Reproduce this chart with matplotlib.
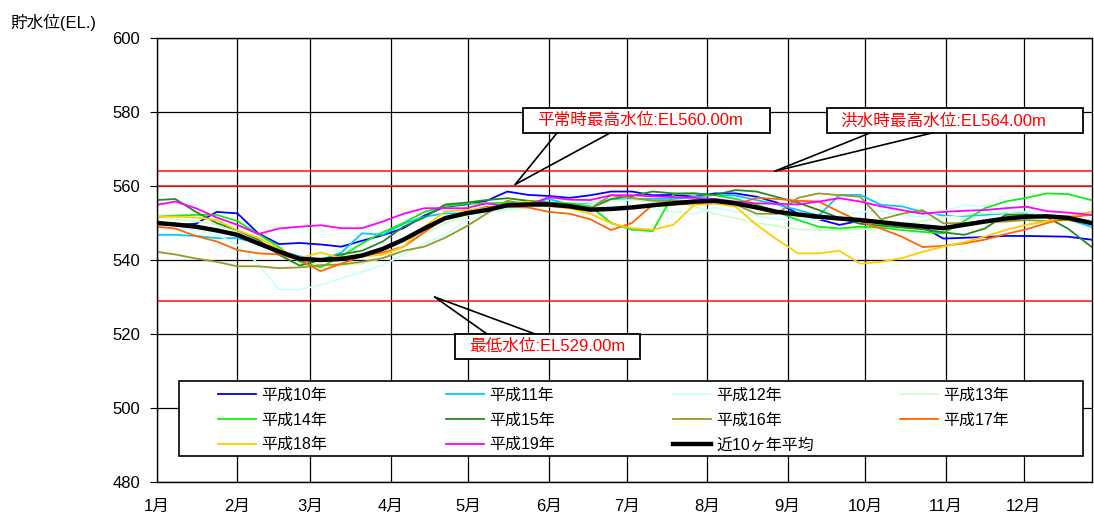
import matplotlib
matplotlib.use("Agg")
import matplotlib.pyplot as plt
from matplotlib.patches import Rectangle
from matplotlib.legend import Legend

plt.rcParams['font.family'] = ['Liberation Sans', 'Noto Sans CJK JP']

# day of year for each reading
days = [1, 8, 16, 24, 32, 40, 48, 56, 64, 72, 80, 88, 96, 104, 112, 120, 128, 136, 144, 152,
        160, 168, 176, 184, 192, 200, 208, 216, 224, 232, 240, 248, 256, 264, 272, 280, 288, 296, 304, 312,
        320, 328, 336, 344, 352, 361]

h10 = [550, 549.5, 549.8, 553, 552.6, 547.2, 544.3, 544.6, 544.2, 543.6, 545.2, 546.7, 548.6, 552, 554.4,
       555, 556, 558.5, 557.6, 557.3, 556.8, 557.5, 558.5, 558.5, 557.5, 557.6, 557.1, 558, 558, 557.1,
       555.5, 552.5, 551, 549.5, 550.6, 550.2, 549.5, 549, 545.8, 546, 546.2, 546.5, 546.5, 546.4, 546.3, 545.5]
h11 = [546.8, 546.8, 546.5, 545.9, 545.9, 544.5, 542.5, 541, 540, 542, 547.2, 546.8, 549.8, 551.7, 552.6,
       552.6, 553, 554.5, 555.3, 556.5, 555, 555.5, 556.2, 556.5, 556.5, 556.5, 557, 557.6, 557.4, 556.2,
       555, 553.5, 552, 557.6, 557.6, 554.9, 554.5, 553, 552, 551.9, 552.2, 552.6, 553, 551.8, 551, 549]
h12 = [549, 548.5, 548, 547, 544, 539, 532, 532, 533.2, 535, 536.8, 538.6, 541.5, 544.5, 546.8,
       550.5, 552.8, 553.5, 554.2, 554.5, 554.5, 554.2, 554.5, 554.5, 554, 553, 552.5, 554.2, 553, 552,
       551, 550.8, 551, 552, 553, 553.3, 552, 551.7, 553, 554.9, 554.5, 553.5, 553, 552, 551.3, 550.4]
h13 = [551.5, 551, 550.5, 549.5, 547.5, 545, 542.5, 540.5, 538.5, 538.5, 539, 540.5, 543.5, 547, 549.9,
       552, 553.2, 553.8, 554.2, 555, 555.5, 555.6, 556, 556.2, 555.8, 555.5, 554.5, 552.5, 551.3, 550,
       549.2, 548.3, 548.1, 548, 548.3, 548.5, 549.5, 550.5, 551.5, 552.2, 552.6, 552.8, 552.5, 552, 551.2, 550.8]
h14 = [551.7, 552, 552.2, 552.2, 550.5, 547, 543.5, 539.5, 538, 541, 544.5, 547.5, 550, 553, 554.5,
       555.2, 555.3, 555.5, 555.5, 555.5, 555.3, 554.5, 550, 548.2, 547.8, 557.8, 558, 557.5, 556.5, 555,
       553, 550.8, 549, 548.5, 549, 548.8, 548.1, 547.6, 547.2, 550.5, 554, 555.8, 556.8, 558, 557.8, 556.2]
h15 = [556.2, 556.5, 553, 550, 548, 545.5, 541.4, 538.5, 540, 541.5, 542.5, 545, 549, 551.5, 555,
       555.5, 556.2, 556.7, 556, 555.5, 555, 554, 556.5, 557.3, 558.5, 558, 558, 557.6, 558.9, 558.5,
       557, 555.5, 553.5, 551.3, 549.8, 549.3, 548.8, 548.3, 547.5, 546.8, 548.5, 552.2, 552.3, 551.5, 548.5, 543.6]
h16 = [542.2, 541.5, 540.4, 539.5, 538.3, 538.3, 537.8, 538, 538.6, 538.8, 539.5, 540.5, 542.5, 543.6, 546,
       549, 552.5, 556, 555, 555, 554.5, 554, 557.5, 556.8, 556, 556, 556, 555.5, 555, 552.5,
       552.5, 556.8, 558, 557.5, 557.1, 551, 552.5, 553.5, 549.9, 550, 550.2, 550.4, 550.8, 550.5, 550.8, 550]
h17 = [549, 548.5, 546.5, 545, 542.7, 541.8, 541.5, 540, 537, 539, 541, 542, 543.6, 547.5, 551.3,
       553, 554.4, 554.4, 554.2, 553, 552.5, 551, 548.1, 550, 554.9, 555, 555.2, 555.3, 555, 556.8,
       556.5, 556, 555.8, 553, 550.4, 548.5, 546.3, 543.5, 543.8, 544.5, 545.5, 547, 548.3, 550, 551.5, 552.2]
h18 = [551.7, 551.7, 551.5, 550.8, 548, 546, 543, 540.5, 542, 540.5, 541, 541.4, 543.6, 549, 553.1,
       553.5, 554, 555, 555.8, 554.5, 554, 552.5, 549.9, 548.6, 548.2, 549.5, 554.9, 555.3, 554.4, 549.5,
       545.5, 541.8, 541.8, 542.5, 539, 539.5, 540.5, 542.2, 543.6, 544.8, 546.3, 548.1, 549.5, 550.5, 551.8, 553]
h19 = [554.9, 555.8, 554, 551.5, 549.5, 547, 548.5, 549, 549.4, 548.6, 548.6, 550.4, 552.5, 554, 554,
       554, 555.3, 554.5, 554.8, 557, 556.3, 556.2, 557.5, 557.5, 557.2, 557, 556.8, 556.5, 555.8, 555.3,
       555.2, 555, 555.8, 556.7, 555.8, 554.5, 553.5, 552.5, 553, 553.3, 553.5, 554, 554.4, 553.2, 552.8, 552.2]
avg10 = [550, 549.6, 549, 548, 546.8, 544.5, 542.3, 540.3, 540, 540.3, 541.2, 543, 545.5, 548.5, 551.3,
         552.6, 553.5, 554.8, 555, 555, 554.5, 553.6, 553.8, 554.2, 554.8, 555.3, 555.8, 556, 555.3, 554.2,
         553, 552.3, 551.7, 551.2, 550.8, 550.2, 549.6, 549.1, 548.6, 549.5, 550.4, 551.2, 551.7, 551.8, 551.4, 550]

labels = ['平成10年', '平成11年', '平成12年', '平成13年', '平成14年', '平成15年',
          '平成16年', '平成17年', '平成18年', '平成19年', '近10ヶ年平均']
colors = ['#0000FF', '#00CCFF', '#CCFFFF', '#CCFFCC', '#11EE11', '#228B22',
          '#999922', '#FF6600', '#FFCC00', '#FF00FF', '#000000']

month_start = [1, 32, 60, 91, 121, 152, 182, 213, 244, 274, 305, 335]
month_labels = ['1月', '2月', '3月', '4月', '5月', '6月', '7月', '8月', '9月', '10月', '11月', '12月']

lv_normal = 560.0
lv_flood = 564.0
lv_low = 529.0

W, H = 1094, 517


def fpos(x, y):
    # pixel position -> figure fraction
    return x / W, 1 - y / H


fig = plt.figure(figsize=(W / 100, H / 100), dpi=100)
ax = fig.add_axes([157 / W, 1 - 482 / H, (1092 - 157) / W, (482 - 38) / H])

ax.set_xlim(1, 361.3)
ax.set_ylim(480, 600)
ax.set_yticks(range(480, 601, 20))
ax.set_xticks(month_start)
ax.set_xticklabels(month_labels)
ax.tick_params(axis='x', length=0, pad=12, labelsize=12)
ax.tick_params(axis='y', length=5, pad=7, labelsize=12)
ax.grid(True, color='black', lw=0.9)
ax.set_axisbelow(True)
for s in ax.spines.values():
    s.set_linewidth(1.0)

for lv in (lv_normal, lv_flood, lv_low):
    ax.axhline(lv, color='#FF2020', lw=1.2, zorder=1.5)

data = [h10, h11, h12, h13, h14, h15, h16, h17, h18, h19]
handles = []
for vals, lab, col in zip(data, labels[:10], colors[:10]):
    ln, = ax.plot(days, vals, color=col, lw=1.3, label=lab, zorder=2)
    handles.append(ln)
ln, = ax.plot(days, avg10, color='black', lw=3.2, label=labels[10], zorder=3)
handles.append(ln)

# legend: white box with four columns
ax.add_patch(Rectangle(fpos(179, 456), (1083 - 179) / W, (456 - 381) / H, transform=fig.transFigure,
                       facecolor='white', edgecolor='black', lw=1.2, zorder=5, clip_on=False))
cols = [[0, 4, 8], [1, 5, 9], [2, 6, 10], [3, 7]]
col_x = [218, 446, 673, 900]
for cx, idx in zip(col_x, cols):
    leg = Legend(ax, [handles[k] for k in idx], [labels[k] for k in idx], loc='upper left',
                 bbox_to_anchor=fpos(cx, 388), bbox_transform=fig.transFigure, frameon=False,
                 borderpad=0, borderaxespad=0, handlelength=2.4, handletextpad=0.3,
                 labelspacing=0.6, fontsize=11.5)
    leg.set_zorder(6)
    ax.add_artist(leg)

# callout boxes
callouts = [
    ('平常時最高水位:EL560.00m', (523, 108, 770, 133), 537, (139, lv_normal + 0.4), [557, 610], 133),
    ('洪水時最高水位:EL564.00m', (827, 108, 1083, 133), 840, (239, lv_flood), [870, 932], 133),
    ('最低水位:EL529.00m', (455, 334, 640, 359), 469, (108, lv_low + 1), [487, 535], 334),
]
for txt, (x0, y0, x1, y1), tx, target, starts, sy in callouts:
    ax.add_patch(Rectangle(fpos(x0, y1), (x1 - x0) / W, (y1 - y0) / H, transform=fig.transFigure,
                           facecolor='white', edgecolor='black', lw=1.3, zorder=5, clip_on=False))
    fig.text(*fpos(tx, (y0 + y1) / 2), txt, color='#FF0000', fontsize=12, ha='left', va='center', zorder=6)
    for sx in starts:
        ax.annotate('', xy=target, xycoords='data', xytext=fpos(sx, sy), textcoords='figure fraction',
                    arrowprops=dict(arrowstyle='-', color='black', lw=1.2, shrinkA=0, shrinkB=0), zorder=4)

fig.text(*fpos(10, 22), '貯水位(EL.)', fontsize=12, ha='left', va='center')

fig.savefig('out.png', dpi=100)
